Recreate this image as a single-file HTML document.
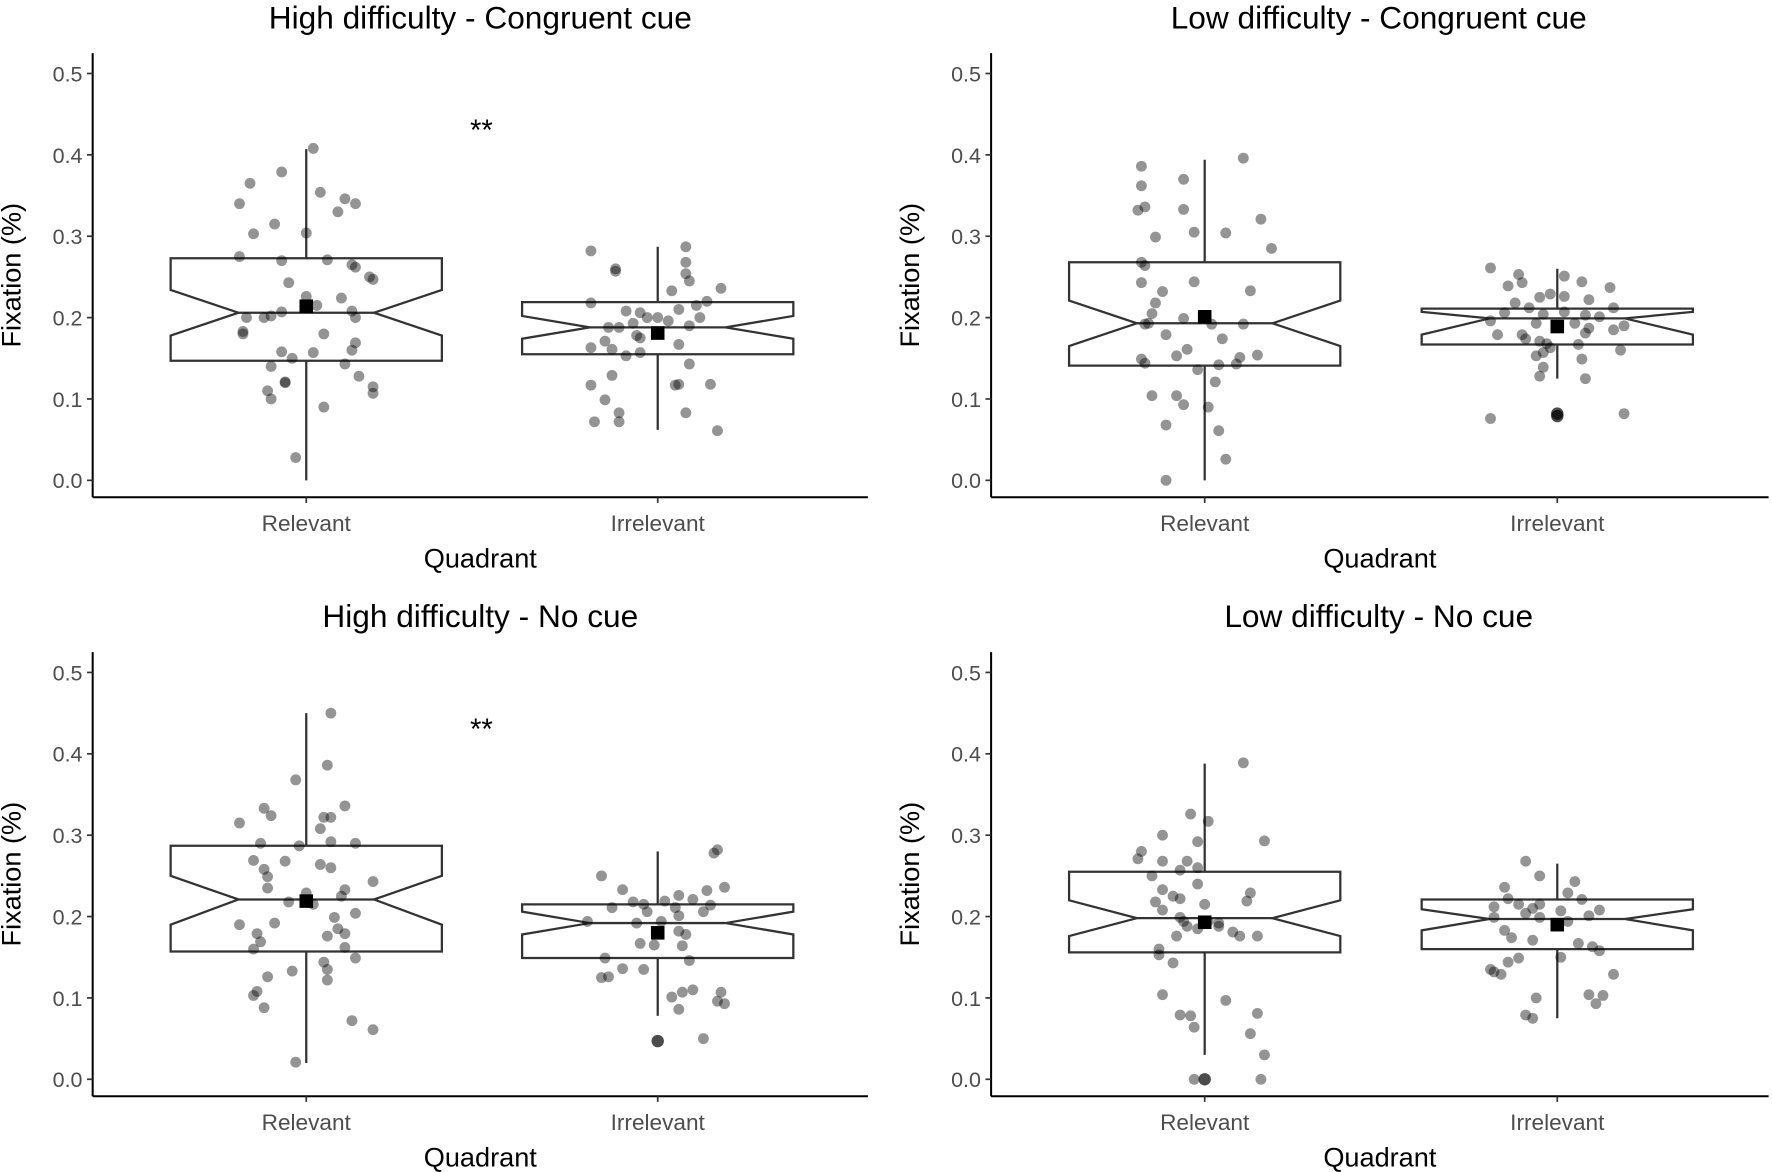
<!DOCTYPE html>
<html><head><meta charset="utf-8"><style>
html,body{margin:0;padding:0;background:#fff;}
svg{display:block;font-family:"Liberation Sans",Arial,sans-serif;}
</style></head><body>
<svg id="chart" width="1772" height="1172" viewBox="0 0 1568 1037" xmlns="http://www.w3.org/2000/svg"></svg>
<script>
// ---- data ----
const panelTitles = ["High difficulty - Congruent cue","Low difficulty - Congruent cue","High difficulty - No cue","Low difficulty - No cue"];
const categories = ["Relevant","Irrelevant"];
const yTicks = [0.0,0.1,0.2,0.3,0.4,0.5];
const yTickLabels = ["0.0","0.1","0.2","0.3","0.4","0.5"];
const significance = ["**","","**",""];
// box stats per panel per category: [whiskerLo, q1, notchLo, median, notchHi, q3, whiskerHi]
const boxStats = [
 [[0.0,0.147,0.178,0.206,0.234,0.273,0.407],[0.062,0.155,0.174,0.188,0.202,0.219,0.287]],
 [[0.0,0.141,0.165,0.193,0.221,0.268,0.394],[0.125,0.167,0.179,0.199,0.207,0.211,0.260]],
 [[0.02,0.157,0.190,0.221,0.250,0.287,0.450],[0.078,0.149,0.178,0.192,0.206,0.215,0.280]],
 [[0.03,0.156,0.176,0.198,0.220,0.255,0.388],[0.075,0.160,0.183,0.197,0.209,0.221,0.265]]
];
const means = [[0.214,0.181],[0.201,0.189],[0.219,0.180],[0.193,0.190]];
// outliers: [panel, category, value]
const outliers = [[1,1,0.079],[1,1,0.082],[2,1,0.047],[3,0,0.0]];
// jittered observations: values and jitter (% of category spacing)
const pts_TL_rel_v=[0.408,0.365,0.379,0.34,0.354,0.346,0.34,0.33,0.315,0.303,0.304,0.275,0.27,0.271,0.265,0.262,0.25,0.247,0.243,0.226,0.224,0.215,0.207,0.208,0.202,0.2,0.2,0.2,0.183,0.18,0.18,0.169,0.16,0.158,0.157,0.15,0.143,0.14,0.128,0.12,0.121,0.11,0.1,0.115,0.107,0.09,0.028];
const pts_TL_rel_j=[2,-16,-7,-19,4,11,14,9,-9,-15,0,-19,-7,6,13,14,18,19,-5,0,10,3,-7,13,-10,-17,14,-12,-18,-18,5,14,13,-7,2,-4,11,-10,15,-6,-6,-11,-10,19,19,5,-3];
const pts_TL_irr_v=[0.282,0.26,0.257,0.268,0.287,0.254,0.233,0.245,0.236,0.218,0.208,0.206,0.2,0.21,0.215,0.22,0.2,0.19,0.2,0.196,0.193,0.188,0.188,0.178,0.175,0.171,0.163,0.161,0.153,0.157,0.167,0.143,0.129,0.117,0.118,0.117,0.118,0.099,0.083,0.083,0.072,0.072,0.061];
const pts_TL_irr_j=[-19,-12,-12,8,8,8,4,9,18,-19,-9,-5,0,6,11,14,12,9,-3,3,-7,-14,-11,-6,-5,-15,-19,-13,-9,-5,6,9,-13,-19,6,5,15,-15,-11,8,-18,-11,17];
const pts_TR_rel_v=[0.396,0.386,0.362,0.37,0.336,0.332,0.333,0.321,0.299,0.305,0.304,0.285,0.268,0.264,0.243,0.244,0.232,0.233,0.218,0.205,0.199,0.192,0.193,0.192,0.192,0.179,0.174,0.161,0.149,0.153,0.151,0.154,0.144,0.142,0.136,0.143,0.121,0.104,0.104,0.093,0.09,0.068,0.061,0.026,0.0];
const pts_TR_rel_j=[11,-18,-18,-6,-17,-19,-6,16,-14,-3,6,19,-18,-17,-18,-3,-12,13,-14,-15,-6,-17,-16,2,11,-11,5,-5,-18,-8,10,15,-17,4,-2,9,3,-15,-8,-6,1,-11,4,6,-11];
const pts_TR_irr_v=[0.261,0.253,0.251,0.243,0.239,0.244,0.237,0.229,0.225,0.226,0.222,0.218,0.212,0.212,0.206,0.204,0.207,0.203,0.201,0.196,0.193,0.193,0.187,0.185,0.19,0.181,0.179,0.179,0.174,0.171,0.168,0.163,0.16,0.153,0.157,0.167,0.139,0.149,0.128,0.125,0.076,0.082];
const pts_TR_irr_j=[-19,-11,2,-10,-14,7,15,-2,-5,2,9,-12,-8,16,-15,-4,2,8,12,-19,-6,5,9,16,19,8,-10,-17,-9,-5,-3,-2,18,-6,-4,6,-4,7,-5,8,-19,19];
const pts_BL_rel_v=[0.45,0.368,0.386,0.336,0.333,0.324,0.315,0.322,0.322,0.308,0.292,0.29,0.29,0.287,0.269,0.268,0.264,0.26,0.258,0.249,0.243,0.233,0.229,0.235,0.225,0.215,0.218,0.204,0.199,0.19,0.192,0.185,0.176,0.179,0.179,0.169,0.162,0.16,0.149,0.144,0.135,0.133,0.122,0.126,0.108,0.103,0.088,0.072,0.061,0.021];
const pts_BL_rel_j=[7,-3,6,11,-12,-10,-19,5,7,4,7,14,-13,-2,-15,-6,4,7,-12,-11,19,11,0,-11,10,2,-5,14,8,-19,-9,9,6,-14,11,-13,11,-15,14,5,6,-4,6,-11,-14,-15,-12,13,19,-3];
const pts_BL_irr_v=[0.282,0.278,0.25,0.233,0.226,0.232,0.236,0.221,0.219,0.215,0.218,0.211,0.214,0.211,0.206,0.206,0.201,0.194,0.192,0.194,0.182,0.178,0.167,0.165,0.164,0.149,0.146,0.135,0.136,0.126,0.125,0.107,0.11,0.107,0.101,0.096,0.093,0.086,0.05];
const pts_BL_irr_j=[17,16,-16,-10,6,14,19,10,2,-4,-7,5,15,-13,13,-3,6,-20,-6,1,6,8,-5,-1,7,-15,9,-4,-10,-14,-16,7,10,18,4,17,19,6,13];
const pts_BR_rel_v=[0.389,0.326,0.317,0.3,0.292,0.293,0.28,0.271,0.268,0.268,0.26,0.257,0.25,0.24,0.233,0.225,0.229,0.219,0.222,0.218,0.215,0.208,0.199,0.194,0.194,0.192,0.188,0.188,0.181,0.185,0.176,0.176,0.16,0.176,0.153,0.143,0.104,0.097,0.079,0.078,0.081,0.064,0.056,0.03,0.0,0.0];
const pts_BR_rel_j=[11,-4,1,-12,-2,17,-18,-19,-12,-5,-2,-7,-15,-2,-12,-9,13,12,-7,-14,0,-12,-7,-6,1,4,4,-5,8,-2,-8,10,-13,15,-13,-9,-12,6,-7,-4,15,-3,13,17,-3,16];
const pts_BR_irr_v=[0.268,0.25,0.243,0.236,0.229,0.222,0.221,0.212,0.215,0.21,0.215,0.207,0.204,0.199,0.199,0.194,0.201,0.208,0.183,0.174,0.171,0.167,0.163,0.158,0.15,0.149,0.144,0.135,0.132,0.129,0.104,0.103,0.1,0.079,0.093,0.129,0.075];
const pts_BR_irr_j=[-9,-5,5,-15,3,-14,7,-18,-11,-7,-5,1,-9,-18,-5,3,9,12,-15,-13,-7,6,10,12,1,-11,-14,-19,-18,-16,9,13,-6,-9,11,16,-7];
const pointValues = [[pts_TL_rel_v,pts_TL_irr_v],[pts_TR_rel_v,pts_TR_irr_v],[pts_BL_rel_v,pts_BL_irr_v],[pts_BR_rel_v,pts_BR_irr_v]];
const pointJitter = [[pts_TL_rel_j,pts_TL_irr_j],[pts_TR_rel_j,pts_TR_irr_j],[pts_BL_rel_j,pts_BL_irr_j],[pts_BR_rel_j,pts_BR_irr_j]];

// ---- layout ----
const NS="http://www.w3.org/2000/svg";
const svg=document.getElementById('chart');
function mk(tag,attrs,parent,text){const e=document.createElementNS(NS,tag);for(const k in attrs)e.setAttribute(k,attrs[k]);if(text!==undefined)e.textContent=text;(parent||svg).appendChild(e);return e;}
const panels=[{ax:82,right:768,y0:425,top:47,xa:440,cx:[271,582],tx:425,ty:15},
 {ax:877,right:1565,y0:425,top:47,xa:440,cx:[1066,1378],tx:1220,ty:15},
 {ax:82,right:768,y0:955,top:577,xa:970,cx:[271,582],tx:425,ty:545},
 {ax:877,right:1565,y0:955,top:577,xa:970,cx:[1066,1378],tx:1220,ty:545}];
const PER=720, SPACING=311, HALF=120, NOTCH=60;
panels.forEach((P,pi)=>{
  const g=mk('g',{});
  
  
  const Y=v=>P.y0-v*PER;
  const X=(c,j)=>P.cx[c]+j/100*SPACING;
  const t=mk('text',{x:P.tx,y:P.ty+10,'font-size':28,'text-anchor':'middle',fill:'#000'},g,panelTitles[pi]);
  
  
  const ya=mk('line',{x1:P.ax,y1:P.top,x2:P.ax,y2:P.xa,stroke:'#000','stroke-width':1.8},g);
  
  
  const xa=mk('line',{x1:P.ax,y1:P.xa,x2:P.right,y2:P.xa,stroke:'#000','stroke-width':1.8},g);
  
  
  yTicks.forEach((v,i)=>{
    mk('line',{x1:P.ax-5,y1:Y(v),x2:P.ax,y2:Y(v),stroke:'#333','stroke-width':1.5},g);
    const l=mk('text',{x:P.ax-9,y:Y(v)+7,'font-size':19,'text-anchor':'end',fill:'#4d4d4d'},g,yTickLabels[i]);
    
    
  });
  categories.forEach((c,ci)=>{
    mk('line',{x1:P.cx[ci],y1:P.xa,x2:P.cx[ci],y2:P.xa+5,stroke:'#333','stroke-width':1.5},g);
    const l=mk('text',{x:P.cx[ci],y:P.xa+30,'font-size':20,'text-anchor':'middle',fill:'#4d4d4d'},g,c);
    
    
  });
  const xt=mk('text',{x:(P.ax+P.right)/2,y:P.xa+62,'font-size':24,'text-anchor':'middle',fill:'#000'},g,'Quadrant');
  
  
  const yc=(P.top+P.xa)/2;
  const yt=mk('text',{x:0,y:0,'font-size':24,'text-anchor':'middle',fill:'#000',transform:`translate(${P.ax-64},${yc}) rotate(-90)`},g,'Fixation (%)');
  
  
  categories.forEach((c,ci)=>{
    const s=boxStats[pi][ci], cx=P.cx[ci];
    const wl=mk('line',{x1:cx,y1:Y(s[0]),x2:cx,y2:Y(s[1]),stroke:'#333','stroke-width':2},g);
    
    
    const wu=mk('line',{x1:cx,y1:Y(s[5]),x2:cx,y2:Y(s[6]),stroke:'#333','stroke-width':2},g);
    
    
    const L=cx-HALF,R=cx+HALF;
    const d=`M${L},${Y(s[5])}L${R},${Y(s[5])}L${R},${Y(s[4])}L${R-NOTCH},${Y(s[3])}L${R},${Y(s[2])}L${R},${Y(s[1])}L${L},${Y(s[1])}L${L},${Y(s[2])}L${L+NOTCH},${Y(s[3])}L${L},${Y(s[4])}Z`;
    const b=mk('path',{d:d,fill:'#fff',stroke:'#333','stroke-width':2},g);
    
    
    const m=mk('line',{x1:L+NOTCH,y1:Y(s[3]),x2:R-NOTCH,y2:Y(s[3]),stroke:'#333','stroke-width':2},g);
    
    
  });
  categories.forEach((c,ci)=>{
    pointValues[pi][ci].forEach((v,k)=>{
      const p=mk('circle',{cx:X(ci,pointJitter[pi][ci][k]),cy:Y(v),r:4.8,fill:'rgba(0,0,0,0.42)'},g);
      
      
    });
  });
  outliers.filter(o=>o[0]===pi).forEach(o=>{
    const p=mk('circle',{cx:P.cx[o[1]],cy:Y(o[2]),r:5.5,fill:'rgba(0,0,0,0.7)'},g);
    
    
  });
  categories.forEach((c,ci)=>{
    const mv=means[pi][ci];
    const r=mk('rect',{x:P.cx[ci]-6,y:Y(mv)-6,width:12,height:12,fill:'#000'},g);
    
    
  });
  if(significance[pi]){
    const s=mk('text',{x:426,y:Y(0.4)-13,'font-size':26,'text-anchor':'middle',fill:'#000'},g,significance[pi]);
    
    
  }
});
</script>
</body></html>
